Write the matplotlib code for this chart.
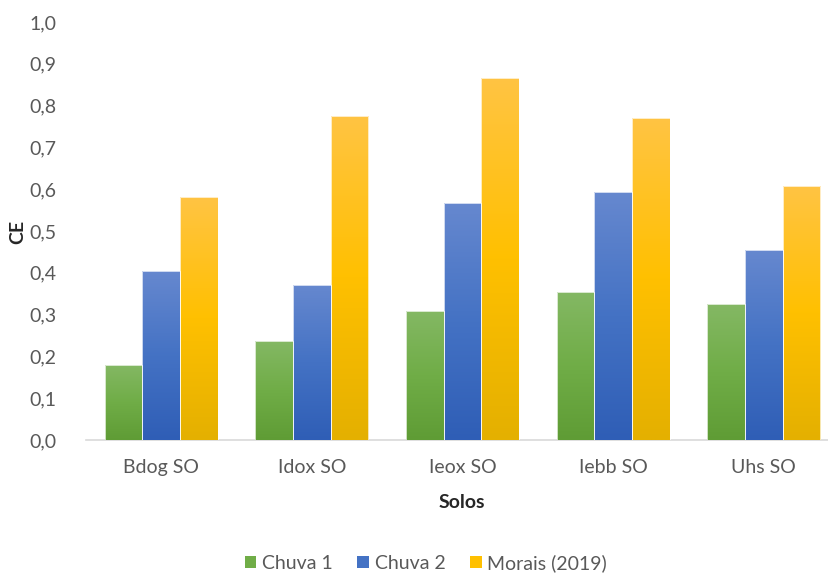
import numpy as np
import matplotlib.pyplot as plt
from matplotlib.colors import LinearSegmentedColormap
from matplotlib.patches import Patch

plt.rcParams['font.family'] = ['Lato', 'DejaVu Sans']

solos = ['Bdog SO', 'Idox SO', 'Ieox SO', 'Iebb SO', 'Uhs SO']
chuva1 = [0.180, 0.238, 0.309, 0.355, 0.325]
chuva2 = [0.404, 0.371, 0.566, 0.593, 0.454]
morais = [0.581, 0.776, 0.866, 0.770, 0.607]
series_names = ['Chuva 1', 'Chuva 2', 'Morais (2019)']

# top / middle / bottom shades for the vertical gradient of each series
shades = [
    ['#84b864', '#70ad47', '#5f9c35'],
    ['#6688cf', '#4472c4', '#2f5eb6'],
    ['#ffc443', '#ffc000', '#e4b000'],
]
base_colors = ['#70ad47', '#4472c4', '#ffc000']

fig = plt.figure(figsize=(8.29, 5.74), dpi=100)
ax = fig.add_axes([86 / 829, 134 / 574, 753 / 829, 418 / 574])

x = np.arange(len(solos))
width = 0.25
grad = np.linspace(0, 1, 256).reshape(-1, 1)

for i, vals in enumerate([chuva1, chuva2, morais]):
    cmap = LinearSegmentedColormap.from_list('g%d' % i, shades[i][::-1])
    bars = ax.bar(x + (i - 1) * width, vals, width, color=base_colors[i],
                  edgecolor='white', linewidth=0.5, zorder=2)
    for b in bars:
        x0, w, h = b.get_x(), b.get_width(), b.get_height()
        im = ax.imshow(grad, cmap=cmap, aspect='auto', origin='lower',
                       extent=[x0, x0 + w, 0, h], zorder=3)
        im.set_clip_path(b)
        b.set_facecolor('none')
        b.set_zorder(4)

ax.set_xlim(-0.5, len(solos) - 0.5)
ax.set_ylim(0, 1.0)
yt = np.round(np.arange(0, 1.01, 0.1), 1)
ax.set_yticks(yt)
ax.set_yticklabels([('%.1f' % v).replace('.', ',') for v in yt])
ax.set_xticks(x)
ax.set_xticklabels(solos)

for s in ['top', 'right', 'left']:
    ax.spines[s].set_visible(False)
ax.spines['bottom'].set_color('#d9d9d9')
ax.spines['bottom'].set_linewidth(1.2)
ax.tick_params(axis='both', length=0, labelsize=14, colors='#595959')
ax.tick_params(axis='y', pad=21)
ax.tick_params(axis='x', pad=14)

fig.text(18 / 829, 1 - 232 / 574, 'CE', rotation=90, fontsize=14, fontweight='bold',
         color='#262626', ha='center', va='center')
fig.text(462 / 829, 1 - 502 / 574, 'Solos', fontsize=14, fontweight='bold',
         color='#262626', ha='center', va='center')

handles = [Patch(facecolor=c) for c in base_colors]
fig.legend(handles, series_names, loc='center', bbox_to_anchor=(426 / 829, 1 - 563 / 574),
           ncol=3, frameon=False, fontsize=14, handlelength=0.6, handleheight=0.6,
           handletextpad=0.3, columnspacing=1.25, labelcolor='#595959')

fig.savefig('out.png', dpi=100)
